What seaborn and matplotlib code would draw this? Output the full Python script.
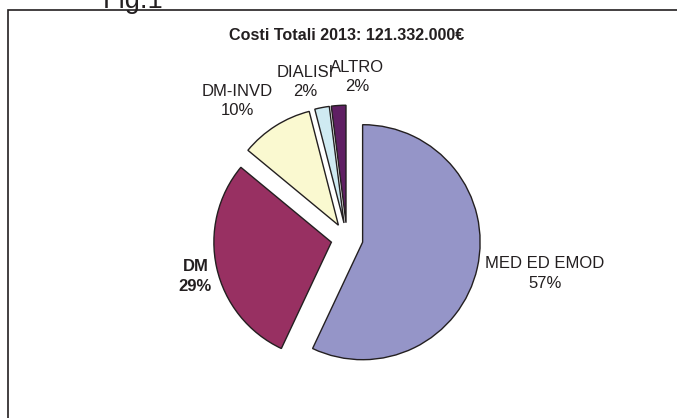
import numpy as np
import matplotlib
matplotlib.use("Agg")
import matplotlib.pyplot as plt
import matplotlib.patches as mpatches
import seaborn as sns

# dati
categorie = ["MED ED EMOD", "DM", "DM-INVD", "DIALISI", "ALTRO"]
quote = [57, 29, 10, 2, 2]
colori = ["#9595c8", "#983062", "#faf9d0", "#cfeaf2", "#5f1f63"]
titolo = "Costi Totali 2013: 121.332.000€"

# stile
sns.set_style("white")
plt.rcParams["font.family"] = ["Liberation Sans", "DejaVu Sans"]

W, H = 677, 418
fig = plt.figure(figsize=(W / 100, H / 100), dpi=100)
ax = fig.add_axes([0, 0, 1, 1])

centro = (347, H - 238.7)
raggio = 117.5

# explode in unità dati (pixel)
wedges, _ = ax.pie(
    quote,
    colors=colori,
    startangle=90,
    counterclock=False,
    explode=[16] * len(quote),
    center=centro,
    radius=raggio,
    wedgeprops=dict(edgecolor="#231f20", linewidth=1.0),
)

ax.set_xlim(0, W)
ax.set_ylim(0, H)
ax.set_aspect("equal")
ax.axis("off")

# etichette: distanza (in raggi) e piccola correzione d'angolo
dist = [1.71, 1.33, 1.5, 1.38, 1.38]
corr = [2.6, 1.4, 6.2, 4.2, -7.1]
totale = sum(quote)
for w, nome, v, d, c in zip(wedges, categorie, quote, dist, corr):
    ang = np.deg2rad((w.theta1 + w.theta2) / 2 + c)
    x = centro[0] + d * raggio * np.cos(ang)
    y = centro[1] + d * raggio * np.sin(ang)
    peso = "bold" if nome == "DM" else "normal"
    ax.text(x, y, f"{nome}\n{v / totale * 100:.0f}%", ha="center", va="center",
            fontsize=12, fontweight=peso, color="#231f20", linespacing=1.35)

# titolo
fig.text(347 / W, 1 - 35 / H, titolo, ha="center", va="center",
         fontsize=11.6, fontweight="bold", color="#231f20")

# cornice del grafico
cornice = mpatches.Rectangle((8 / W, -0.1), 1.2, 1.1 - 10 / H, fill=False,
                             edgecolor="#231f20", linewidth=1.2,
                             transform=fig.transFigure, clip_on=False)
fig.add_artist(cornice)

# scritta Fig.1 tagliata in alto
fig.text(103 / W, 1 - 8 / H, "Fig.1", ha="left", va="baseline",
         fontsize=19.5, color="#231f20")

plt.savefig("out.png", dpi=100)
plt.close()
